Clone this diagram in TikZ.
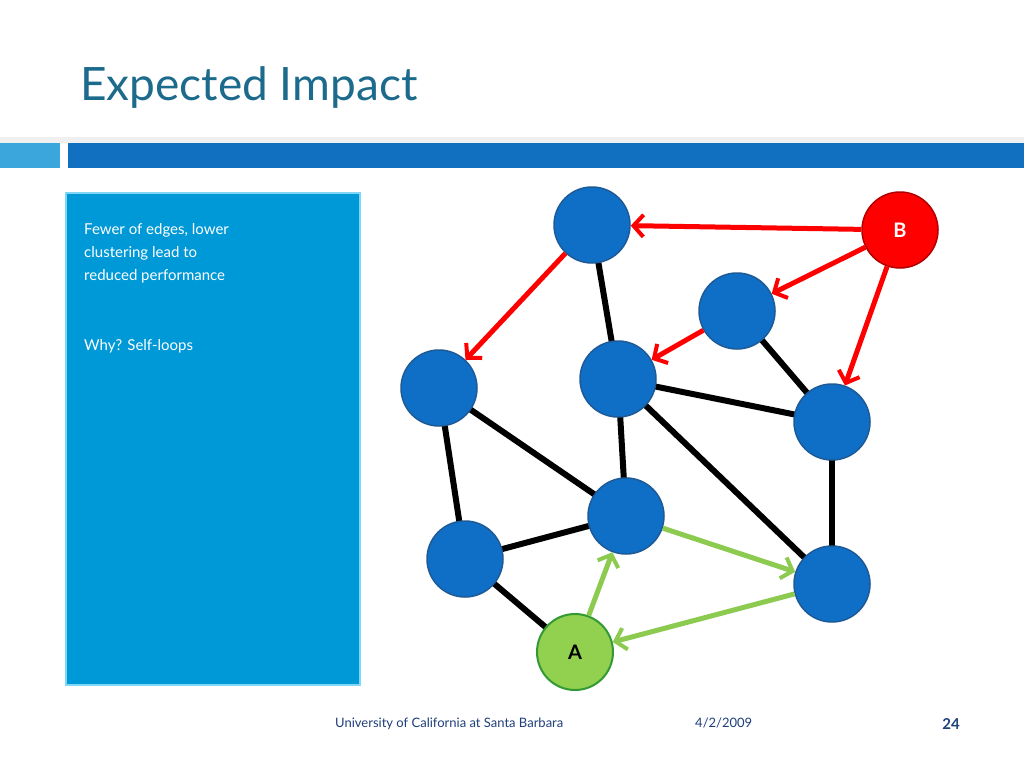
\documentclass[tikz,border=0pt]{standalone}
\usepackage{fontspec}
\setmainfont{Lato}
\usetikzlibrary{arrows.meta}
\definecolor{ttl}{HTML}{1C6A8C}
\definecolor{barA}{HTML}{3AA6DC}
\definecolor{barB}{HTML}{1170C0}
\definecolor{boxc}{HTML}{0099D8}
\definecolor{nblue}{HTML}{0F6FC6}
\definecolor{nbord}{HTML}{1E5A96}
\definecolor{gfill}{HTML}{92D050}
\definecolor{gline}{HTML}{8CCB50}
\definecolor{foot}{HTML}{1F3F7A}
\tikzset{
 nd/.style={circle,minimum size=76pt,inner sep=0pt,fill=nblue,draw=nbord,line width=1.5pt},
 bl/.style={line width=6pt,black},
 ra/.style={line width=5pt,red,-{Straight Barb[length=10pt,width=22pt,line width=4pt]}},
 ga/.style={line width=5pt,gline,-{Straight Barb[length=10pt,width=22pt,line width=4pt]}},
}
\begin{document}
\begin{tikzpicture}[x=1pt,y=-1pt]
\useasboundingbox (0,0) rectangle (1024,768);
\fill[white] (0,0) rectangle (1024,768);
\node[anchor=base west,text=ttl,font=\fontsize{46}{50}\selectfont,inner sep=0] (title) at (80,100) {Expected Impact};
\fill[gray!12] (0,137) rectangle (1024,143);
\fill[barA] (0,143) rectangle (60,168);
\fill[barB] (68,143) rectangle (1024,168);
\draw[fill=boxc,draw=cyan!50,line width=1.5pt] (66,193) rectangle (360,685);
\node[anchor=north west,text=white,align=left,font=\fontsize{15}{23}\selectfont,inner sep=0] (t1) at (84,223) {Fewer of edges, lower\\clustering lead to\\reduced performance};
\node[anchor=north west,text=white,font=\fontsize{15}{23}\selectfont,inner sep=0] (t2) at (84,339) {Why? Self-loops};
% edges first
\coordinate (c1) at (592,225); \coordinate (cB) at (900,230); \coordinate (c3) at (737,311);
\coordinate (c4) at (439,388); \coordinate (c5) at (618,379); \coordinate (c6) at (832,422);
\coordinate (c7) at (626,516); \coordinate (c8) at (465,559); \coordinate (c9) at (832,584);
\coordinate (cA) at (575,652);
\draw[bl] (c1)--(c5); \draw[bl] (c3)--(c6); \draw[bl] (c5)--(c6); \draw[bl] (c5)--(c9);
\draw[bl] (c5)--(c7); \draw[bl] (c4)--(c7); \draw[bl] (c4)--(c8); \draw[bl] (c8)--(c7);
\draw[bl] (c8)--(cA); \draw[bl] (c6)--(c9);
\node[nd] (n1) at (c1) {}; \node[nd,fill=red,draw=red!70!black] (nB) at (cB) {\textcolor{white}{\fontsize{20}{20}\selectfont\bfseries B}};
\node[nd] (n3) at (c3) {}; \node[nd] (n4) at (c4) {}; \node[nd] (n5) at (c5) {};
\node[nd] (n6) at (c6) {}; \node[nd] (n7) at (c7) {}; \node[nd] (n8) at (c8) {};
\node[nd] (n9) at (c9) {};
\node[nd,fill=gfill,draw=green!50!black!80,line width=2pt] (nA) at (cA) {\fontsize{20}{20}\selectfont\bfseries A};
\draw[ra] (nB)--(n1); \draw[ra] (nB)--(n3); \draw[ra] (nB)--(n6);
\draw[ra] (n1)--(n4); \draw[ra] (n3)--(n5);
\draw[ga] (nA)--(n7); \draw[ga] (n7)--(n9); \draw[ga] (n9)--(nA);
\node[anchor=base west,text=foot,font=\fontsize{13}{15}\selectfont,inner sep=0] (f1) at (335,727) {University of California at Santa Barbara};
\node[anchor=base west,text=foot,font=\fontsize{13}{15}\selectfont,inner sep=0] (f2) at (695,727) {4/2/2009};
\node[anchor=base,text=foot,font=\fontsize{15}{15}\selectfont\bfseries,inner sep=0] (f3) at (951,729) {24};
\end{tikzpicture}
\end{document}
